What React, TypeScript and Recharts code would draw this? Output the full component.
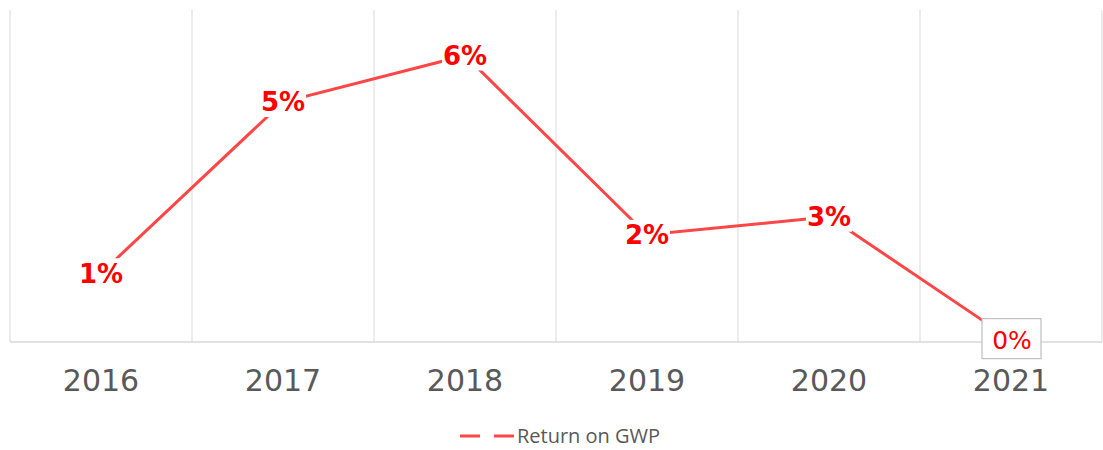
import React from "react";
import {
  CartesianGrid,
  Legend,
  LabelList,
  Line,
  LineChart,
  XAxis,
  YAxis,
} from "recharts";

const years = ["2016", "2017", "2018", "2019", "2020", "2021"];
const returnOnGwp = [1.45, 5.06, 6.04, 2.26, 2.64, 0.05];

const data = years.map((year, i) => ({ year, value: returnOnGwp[i] }));

const LINE_RED = "#ff4646";
const LABEL_RED = "#ff0000";
const GRID = "#d9d9d9";

// vertical grid lines sit on the category boundaries, not on the points
function boundaryLines({ xAxis, offset }: any) {
  try {
    const scale = xAxis?.scale;
    if (typeof scale === "function" && typeof scale.bandwidth === "function") {
      const bw = scale.bandwidth();
      const starts = years.map((y) => scale(y));
      if (starts.every((v: any) => typeof v === "number" && !isNaN(v))) {
        return [...starts, starts[starts.length - 1] + bw];
      }
    }
  } catch (e) {
    // fall through to the plain band split
  }
  const step = offset.width / years.length;
  return [...years.map((_, i) => offset.left + i * step), offset.left + offset.width];
}

function PointLabel(props: any) {
  const { x, y, value, index } = props;
  const text = `${Math.round(value)}%`;
  const isLast = index === data.length - 1;
  if (isLast) {
    return (
      <g>
        <rect x={x - 29} y={y - 21} width={59} height={40} fill="#fff" stroke="#bfbfbf" strokeWidth={1.2} />
        <text
          x={x + 1}
          y={y}
          dy="0.36em"
          textAnchor="middle"
          fill={LABEL_RED}
          fontFamily="DejaVu Sans"
          fontSize={25}
        >
          {text}
        </text>
      </g>
    );
  }
  return (
    <g>
      <rect x={x - 23} y={y - 15} width={46} height={30} fill="#fff" />
      <text
        x={x}
        y={y}
        dy="0.36em"
        textAnchor="middle"
        fill={LABEL_RED}
        fontFamily="DejaVu Sans"
        fontWeight="bold"
        fontSize={26}
      >
        {text}
      </text>
    </g>
  );
}

function LegendContent() {
  return (
    <div
      style={{
        height: 46,
        boxSizing: "border-box",
        paddingTop: 18,
        paddingLeft: 7,
        display: "flex",
        alignItems: "center",
        justifyContent: "center",
      }}
    >
      <svg width={56} height={10} style={{ marginRight: 2 }}>
        <line x1={1} y1={5} x2={55} y2={5} stroke={LINE_RED} strokeWidth={3} strokeDasharray="20 14" />
      </svg>
      <span style={{ fontFamily: "Open Sans", fontSize: 20, color: "#595959", lineHeight: "28px" }}>
        Return on GWP
      </span>
    </div>
  );
}

export default function App() {
  return (
    <div style={{ position: "absolute", left: 0, top: 0, background: "#fff" }}>
      <LineChart width={1103} height={450} data={data} margin={{ top: 10, right: 1, left: 10, bottom: 0 }}>
        <CartesianGrid
          stroke={GRID}
          horizontal={false}
          verticalCoordinatesGenerator={boundaryLines}
        />
        <XAxis
          dataKey="year"
          scale="band"
          axisLine={{ stroke: GRID, strokeWidth: 1.5 }}
          tickLine={false}
          tickMargin={22}
          height={62}
          tick={{ fill: "#595959", fontSize: 30, fontFamily: "DejaVu Sans" }}
          interval={0}
        />
        <YAxis domain={[0, 7]} hide />
        <Legend verticalAlign="bottom" height={46} content={<LegendContent />} />
        <Line
          dataKey="value"
          name="Return on GWP"
          stroke={LINE_RED}
          strokeWidth={3}
          dot={false}
          isAnimationActive={false}
        >
          <LabelList dataKey="value" content={<PointLabel />} />
        </Line>
      </LineChart>
    </div>
  );
}
